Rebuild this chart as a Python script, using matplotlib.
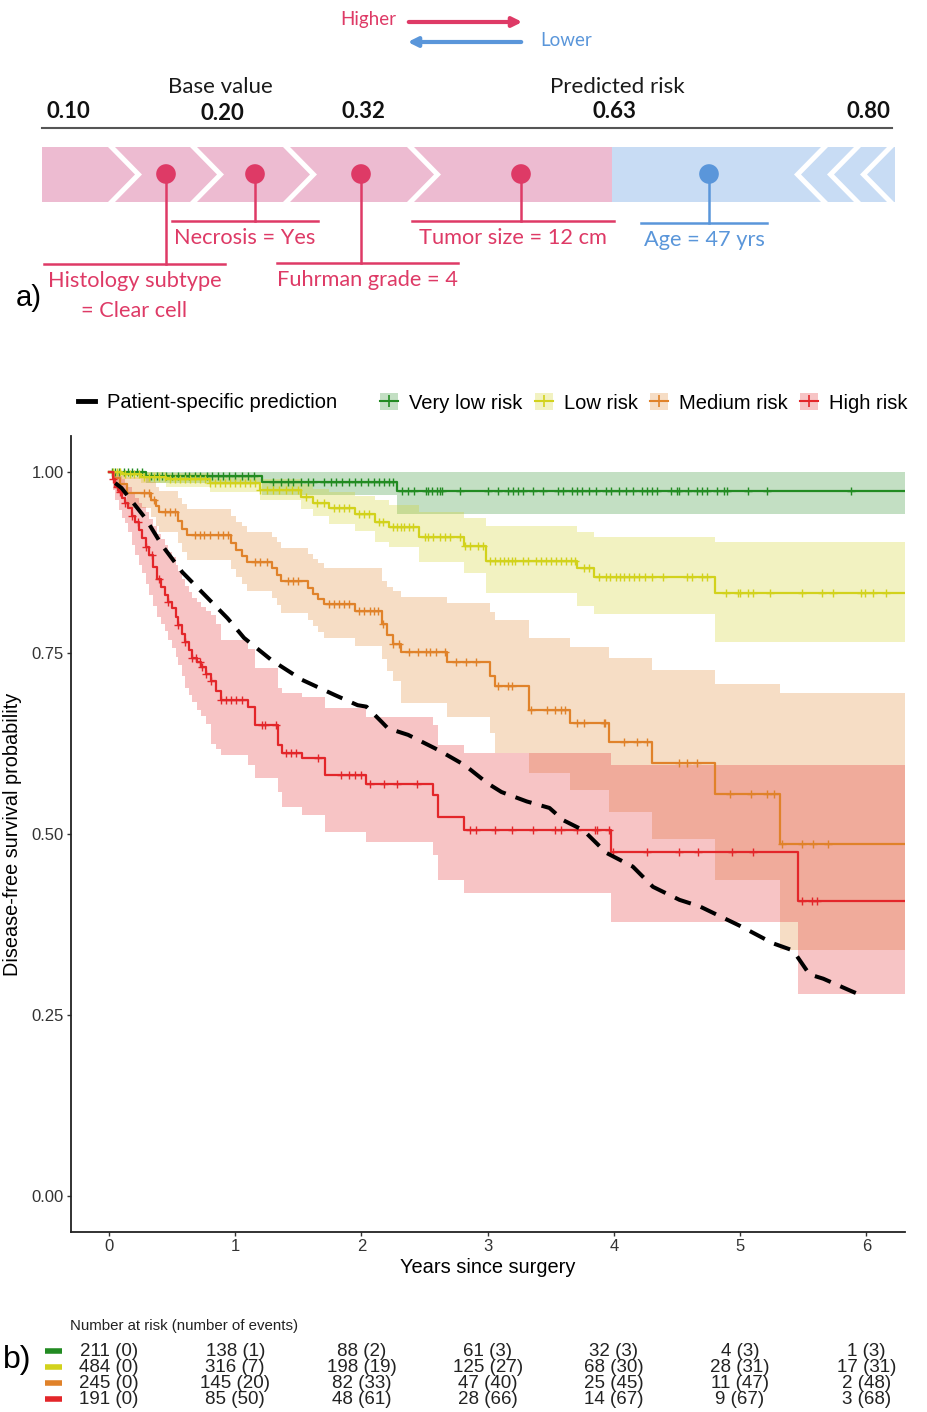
import numpy as np
import matplotlib
matplotlib.use("Agg")
import matplotlib.pyplot as plt
from matplotlib.patches import Polygon, Patch
from matplotlib.lines import Line2D
from matplotlib.legend_handler import HandlerTuple

# ---------------- panel a) : force plot (schematic units) ----------------
scale_labels = ["0.10", "0.20", "0.32", "0.63", "0.80"]
scale_pos = [68, 222, 363, 614, 868]
pos_seg_right = [108, 190, 283, 407]      # white ">" separators in the red part
split_pos = 612                            # predicted risk
neg_seg_tip = [794, 827, 860]              # white "<" separators in the blue part
feat_labels = ["Histology subtype\n= Clear cell", "Necrosis = Yes", "Fuhrman grade = 4",
               "Tumor size = 12 cm", "Age = 47 yrs"]
feat_dot = [166, 255, 361, 521, 709]
feat_bar_left = [44, 172, 277, 412, 641]
feat_bar_right = [225, 318, 458, 614, 767]
feat_bar_y = [264, 221, 263, 221, 223]
feat_higher = [True, True, True, True, False]

# ---------------- panel b) : Kaplan-Meier data ----------------
t_end = 6.31

vlow_t = [0, 0.29, 1.21, 2.28]
vlow_s = [1.0, 0.995, 0.987, 0.974]
vlow_lo = [1.0, 0.985, 0.968, 0.942]
vlow_hi = [1.0, 1.0, 1.0, 1.0]
vlow_cens = [0.02, 0.05, 0.08, 0.12, 0.15, 0.18, 0.22, 0.26, 0.33, 0.38, 0.42, 0.45, 0.5, 0.55,
             0.6, 0.63, 0.68, 0.72, 0.78, 0.82, 0.86, 0.9, 0.95, 1.0, 1.05, 1.1, 1.15, 1.3, 1.36,
             1.42, 1.46, 1.52, 1.58, 1.62, 1.7, 1.76, 1.8, 1.85, 1.9, 1.95, 2.0, 2.05, 2.1, 2.14,
             2.18, 2.22, 2.25, 2.32, 2.37, 2.42, 2.51, 2.53, 2.56, 2.6, 2.62, 2.64, 2.78, 3.0,
             3.08, 3.16, 3.2, 3.24, 3.28, 3.36, 3.44, 3.56, 3.6, 3.67, 3.71, 3.75, 3.8, 3.86,
             3.94, 3.98, 4.04, 4.1, 4.15, 4.22, 4.26, 4.3, 4.34, 4.45, 4.5, 4.52, 4.59, 4.66,
             4.7, 4.74, 4.82, 4.87, 4.9, 5.06, 5.21, 5.88]

low_t = [0, 0.1, 0.25, 0.45, 0.8, 1.2, 1.52, 1.62, 1.74, 1.95, 2.11, 2.22, 2.46, 2.81, 2.99,
         3.71, 3.84, 4.80]
low_s = [1.0, 0.997, 0.994, 0.990, 0.985, 0.976, 0.966, 0.958, 0.950, 0.942, 0.931, 0.924,
         0.911, 0.898, 0.877, 0.867, 0.855, 0.833]
low_lo = [1.0, 0.99, 0.985, 0.979, 0.972, 0.961, 0.949, 0.939, 0.929, 0.919, 0.903, 0.897,
          0.876, 0.860, 0.833, 0.815, 0.804, 0.765]
low_hi = [1.0, 1.0, 1.0, 0.999, 0.996, 0.99, 0.983, 0.977, 0.972, 0.967, 0.962, 0.955,
          0.945, 0.937, 0.925, 0.918, 0.911, 0.903]
low_cens = [0.03, 0.06, 0.09, 0.13, 0.17, 0.2, 0.24, 0.28, 0.32, 0.36, 0.4, 0.44, 0.48, 0.52,
            0.56, 0.6, 0.64, 0.68, 0.72, 0.76, 0.8, 0.84, 0.88, 0.92, 0.96, 1.0, 1.04, 1.08,
            1.12, 1.16, 1.2, 1.25, 1.3, 1.35, 1.4, 1.45, 1.5, 1.56, 1.65, 1.7, 1.78, 1.82,
            1.86, 1.9, 1.98, 2.02, 2.06, 2.14, 2.17, 2.25, 2.28, 2.31, 2.34, 2.38, 2.41, 2.5,
            2.53, 2.57, 2.62, 2.66, 2.7, 2.78, 2.82, 2.86, 2.92, 2.96, 3.02, 3.06, 3.1, 3.13,
            3.16, 3.19, 3.22, 3.28, 3.32, 3.38, 3.42, 3.46, 3.5, 3.54, 3.58, 3.62, 3.66, 3.69,
            3.76, 3.8, 3.88, 3.94, 3.97, 4.02, 4.05, 4.08, 4.12, 4.16, 4.2, 4.25, 4.3, 4.39,
            4.58, 4.62, 4.7, 4.74, 4.89, 4.98, 5.0, 5.06, 5.1, 5.24, 5.49, 5.65, 5.74, 5.96,
            5.99, 6.05, 6.16]

med_t = [0, 0.04, 0.09, 0.14, 0.33, 0.37, 0.40, 0.55, 0.58, 0.62, 0.97, 1.01, 1.05, 1.09,
         1.29, 1.33, 1.36, 1.58, 1.62, 1.66, 1.70, 1.95, 2.16, 2.20, 2.25, 2.31, 2.68, 3.02,
         3.06, 3.33, 3.65, 3.96, 4.30, 4.80, 5.32]
med_s = [1.0, 0.992, 0.984, 0.971, 0.962, 0.953, 0.945, 0.933, 0.922, 0.913, 0.902, 0.892,
         0.884, 0.876, 0.867, 0.858, 0.849, 0.840, 0.832, 0.825, 0.818, 0.808, 0.790, 0.775,
         0.762, 0.751, 0.737, 0.718, 0.705, 0.671, 0.653, 0.627, 0.598, 0.555, 0.486]
med_lo = [1.0, 0.98, 0.968, 0.950, 0.938, 0.926, 0.917, 0.902, 0.890, 0.879, 0.866, 0.855,
          0.846, 0.836, 0.826, 0.816, 0.806, 0.796, 0.787, 0.779, 0.771, 0.760, 0.742, 0.725,
          0.712, 0.681, 0.662, 0.640, 0.612, 0.584, 0.561, 0.531, 0.493, 0.436, 0.340]
med_hi = [1.0, 1.0, 0.999, 0.993, 0.987, 0.980, 0.974, 0.965, 0.956, 0.949, 0.940, 0.931,
          0.925, 0.918, 0.910, 0.903, 0.895, 0.887, 0.880, 0.874, 0.868, 0.868, 0.850, 0.842,
          0.836, 0.828, 0.819, 0.807, 0.796, 0.771, 0.758, 0.743, 0.726, 0.707, 0.695]
med_cens = [0.28, 0.32, 0.36, 0.44, 0.48, 0.52, 0.68, 0.72, 0.75, 0.8, 0.86, 0.9, 0.94, 1.16,
            1.2, 1.25, 1.42, 1.46, 1.5, 1.74, 1.78, 1.82, 1.86, 1.9, 1.98, 2.02, 2.07, 2.1,
            2.13, 2.17, 2.25, 2.3, 2.38, 2.45, 2.51, 2.54, 2.59, 2.66, 2.75, 2.83, 2.91, 3.08,
            3.16, 3.19, 3.34, 3.47, 3.53, 3.58, 3.61, 3.71, 3.76, 3.92, 3.93, 4.08, 4.18, 4.26,
            4.52, 4.58, 4.66, 4.92, 5.09, 5.21, 5.27, 5.33, 5.49, 5.58, 5.70]

high_t = [0, 0.03, 0.05, 0.08, 0.10, 0.13, 0.15, 0.18, 0.21, 0.24, 0.26, 0.29, 0.32, 0.35,
          0.38, 0.41, 0.44, 0.47, 0.50, 0.53, 0.55, 0.58, 0.60, 0.63, 0.655, 0.70, 0.73,
          0.77, 0.81, 0.85, 0.89, 1.10, 1.16, 1.34, 1.37, 1.53, 1.71, 2.04, 2.57, 2.61, 2.81,
          3.98, 5.46]
high_s = [1.0, 0.99, 0.98, 0.972, 0.964, 0.957, 0.950, 0.94, 0.931, 0.92, 0.909, 0.897,
          0.885, 0.869, 0.853, 0.842, 0.830, 0.821, 0.812, 0.80, 0.789, 0.777, 0.766, 0.754,
          0.743, 0.737, 0.731, 0.721, 0.711, 0.698, 0.685, 0.676, 0.651, 0.623, 0.612, 0.605,
          0.581, 0.569, 0.554, 0.524, 0.505, 0.475, 0.407]
high_lo = [1.0, 0.975, 0.962, 0.948, 0.936, 0.93, 0.918, 0.9, 0.886, 0.872, 0.86, 0.845,
           0.83, 0.815, 0.80, 0.79, 0.78, 0.768, 0.757, 0.745, 0.733, 0.718, 0.702, 0.692,
           0.683, 0.672, 0.663, 0.652, 0.625, 0.617, 0.609, 0.595, 0.577, 0.558, 0.538,
           0.526, 0.503, 0.489, 0.471, 0.436, 0.418, 0.378, 0.279]
high_hi = [1.0, 1.0, 0.998, 0.995, 0.99, 0.985, 0.98, 0.972, 0.965, 0.958, 0.952, 0.945,
           0.935, 0.925, 0.915, 0.908, 0.9, 0.89, 0.883, 0.872, 0.863, 0.853, 0.843, 0.834,
           0.826, 0.82, 0.814, 0.808, 0.802, 0.79, 0.768, 0.755, 0.729, 0.702, 0.695, 0.690,
           0.674, 0.662, 0.651, 0.623, 0.612, 0.595, 0.595]
high_cens = [0.03, 0.06, 0.09, 0.13, 0.18, 0.23, 0.29, 0.34, 0.40, 0.47, 0.55, 0.60, 0.66,
             0.69, 0.72, 0.74, 0.77, 0.81, 0.89, 0.93, 0.97, 1.01, 1.05, 1.21, 1.24, 1.32,
             1.40, 1.44, 1.48, 1.66, 1.84, 1.90, 1.95, 2.0, 2.07, 2.18, 2.28, 2.44, 2.86, 2.91,
             3.06, 3.19, 3.36, 3.53, 3.58, 3.71, 3.85, 3.87, 3.96, 3.99, 4.26, 4.52, 4.67,
             4.94, 5.10, 5.49, 5.57, 5.61]

patient_t = [0.05, 0.10, 0.29, 0.42, 0.58, 0.76, 0.94, 1.07, 1.29, 1.53, 1.79, 1.97, 2.04,
             2.16, 2.21, 2.37, 2.45, 2.61, 2.82, 3.0, 3.11, 3.31, 3.49, 3.60, 3.76, 3.94,
             4.15, 4.31, 4.52, 4.68, 5.0, 5.26, 5.42, 5.55, 5.66, 5.88, 5.99]
patient_s = [0.985, 0.978, 0.936, 0.899, 0.862, 0.830, 0.798, 0.771, 0.740, 0.713, 0.692,
             0.678, 0.676, 0.655, 0.646, 0.637, 0.630, 0.616, 0.595, 0.570, 0.558, 0.545,
             0.536, 0.519, 0.505, 0.474, 0.455, 0.427, 0.409, 0.400, 0.373, 0.349, 0.339,
             0.306, 0.300, 0.283, 0.275]

groups = ["Very low risk", "Low risk", "Medium risk", "High risk"]
colors = ["#228B22", "#D2D21C", "#E0822A", "#E3262A"]
risk_years = [0, 1, 2, 3, 4, 5, 6]
at_risk = [[211, 138, 88, 61, 32, 4, 1],
           [484, 316, 198, 125, 68, 28, 17],
           [245, 145, 82, 47, 25, 11, 2],
           [191, 85, 48, 28, 14, 9, 3]]
n_events = [[0, 1, 2, 3, 3, 3, 3],
            [0, 7, 19, 27, 30, 31, 31],
            [0, 20, 33, 40, 45, 47, 48],
            [0, 50, 61, 66, 67, 67, 68]]

W, H = 928, 1412
PINK, PINK_BAND = "#DE3A66", "#EDBBD1"
BLUE, BLUE_BAND = "#5A96DA", "#C8DCF4"
TOPFONT = ["Lato", "DejaVu Sans"]
ARIAL = ["Liberation Sans", "DejaVu Sans"]

fig = plt.figure(figsize=(W / 100, H / 100), dpi=100)

# ======================= panel a =======================
axa = fig.add_axes([0, 1 - 330 / H, 1, 330 / H])
axa.set_xlim(0, W)
axa.set_ylim(330, 0)
axa.axis("off")

axa.annotate("", xy=(525, 22), xytext=(406, 22),
             arrowprops=dict(arrowstyle="-|>", color=PINK, lw=3, mutation_scale=14))
axa.annotate("", xy=(405, 42), xytext=(524, 42),
             arrowprops=dict(arrowstyle="-|>", color=BLUE, lw=3, mutation_scale=14))
axa.text(396, 20, "Higher", color=PINK, ha="right", va="center", fontsize=13.5, family=TOPFONT)
axa.text(540, 40, "Lower", color=BLUE, ha="left", va="center", fontsize=13.5, family=TOPFONT)

axa.text(220, 87, "Base value", ha="center", va="center", fontsize=16, family=TOPFONT,
         color="#1a1a1a")
axa.text(617, 87, "Predicted risk", ha="center", va="center", fontsize=16, family=TOPFONT,
         color="#1a1a1a")
for lab, xp in zip(scale_labels, scale_pos):
    yy = 113 if lab == "0.20" else 111
    axa.text(xp, yy, lab, ha="center", va="center", fontsize=16, fontweight="bold",
             family=TOPFONT, color="#111111")
axa.plot([42, 892], [128, 128], color="#555555", lw=1.5)

# band
top, bot = 147, 202
mid = (top + bot) / 2
d, gap = 27, 7
lefts = [42] + [r + gap for r in pos_seg_right]
rights = pos_seg_right + [split_pos]
for i, (a, b) in enumerate(zip(lefts, rights)):
    la = 0 if i == 0 else d
    rb = 0 if i == len(rights) - 1 else d
    pts = [(a, top), (b, top), (b + rb, mid), (b, bot), (a, bot), (a + la, mid)]
    axa.add_patch(Polygon(pts, closed=True, facecolor=PINK_BAND, edgecolor="none"))
nl = [split_pos] + [m + gap for m in neg_seg_tip]
nr = neg_seg_tip + [895]
for i, (a, b) in enumerate(zip(nl, nr)):
    if i == 0:
        pts = [(a, top), (b + d, top), (b, mid), (b + d, bot), (a, bot)]
    elif i == len(nr) - 1:
        pts = [(a + d, top), (b, top), (b, bot), (a + d, bot), (a, mid)]
    else:
        pts = [(a + d, top), (b + d, top), (b, mid), (b + d, bot), (a + d, bot), (a, mid)]
    axa.add_patch(Polygon(pts, closed=True, facecolor=BLUE_BAND, edgecolor="none"))

for lab, xd, bl, br, by, hi in zip(feat_labels, feat_dot, feat_bar_left, feat_bar_right,
                                   feat_bar_y, feat_higher):
    c = PINK if hi else BLUE
    axa.plot([xd, xd], [174, by], color=c, lw=1.8, zorder=3)
    axa.plot([bl, br], [by, by], color=c, lw=1.8, zorder=3)
    axa.scatter([xd], [174], s=200, color=c, zorder=4, edgecolors="none")
    axa.text((bl + br) / 2, by + 7, lab, color=c, ha="center", va="top", fontsize=15.7,
             family=TOPFONT, linespacing=1.6)
axa.text(29, 298, "a)", ha="center", va="center", fontsize=21, family=ARIAL)

# ======================= panel b =======================
ax = fig.add_axes([71 / W, 1 - 1232 / H, 834 / W, 796 / H])


def step_value(t, s, x):
    idx = np.searchsorted(np.asarray(t), np.asarray(x), side="right") - 1
    return np.asarray(s)[idx]


curves = [(vlow_t, vlow_s, vlow_lo, vlow_hi, vlow_cens),
          (low_t, low_s, low_lo, low_hi, low_cens),
          (med_t, med_s, med_lo, med_hi, med_cens),
          (high_t, high_s, high_lo, high_hi, high_cens)]

for (t, s, lo, hi, cens), c in zip(curves, colors):
    tt = np.r_[t, t_end]
    ax.fill_between(tt, np.r_[lo, lo[-1]], np.r_[hi, hi[-1]], step="post", color=c,
                    alpha=0.27, lw=0)
for (t, s, lo, hi, cens), c in zip(curves, colors):
    tt = np.r_[t, t_end]
    ax.step(tt, np.r_[s, s[-1]], where="post", color=c, lw=1.6)
    ax.plot(cens, step_value(t, s, cens), ls="none", marker="+", ms=6, mew=1.0, color=c)

ax.plot(patient_t, patient_s, color="black", lw=2.9, ls=(0, (4.2, 2.6)),
        solid_capstyle="butt", zorder=5)

ax.set_xlim(-0.301, 6.307)
ax.set_ylim(-0.05, 1.05)
ax.set_xticks(risk_years)
ax.set_yticks([0, 0.25, 0.5, 0.75, 1.0])
ax.set_yticklabels(["0.00", "0.25", "0.50", "0.75", "1.00"])
for sp in ["top", "right"]:
    ax.spines[sp].set_visible(False)
for sp in ["left", "bottom"]:
    ax.spines[sp].set_linewidth(1.3)
    ax.spines[sp].set_color("#222222")
ax.tick_params(length=3, width=1, pad=2, color="#333333", labelcolor="#333333", labelsize=12)
for lab in ax.get_xticklabels() + ax.get_yticklabels():
    lab.set_family(ARIAL)
ax.set_xlabel("Years since surgery", fontsize=14.4, family=ARIAL, labelpad=3)
ax.set_ylabel("Disease-free survival probability", fontsize=14.3, family=ARIAL, labelpad=7)

# legends
h_pat = Line2D([], [], color="black", lw=3.5)
leg1 = fig.legend([h_pat], ["Patient-specific prediction"], loc="center left",
                  bbox_to_anchor=(78 / W, 1 - 403 / H), frameon=False, borderpad=0,
                  borderaxespad=0, handlelength=0.85, handletextpad=0.6,
                  prop={"family": ARIAL, "size": 14.5})
handles = [(Patch(facecolor=c, alpha=0.27, edgecolor="none"),
            Line2D([], [], color=c, lw=1.5, marker="+", ms=9, mew=1.2)) for c in colors]
leg2 = fig.legend(handles, groups, loc="center left", bbox_to_anchor=(380 / W, 1 - 403 / H),
                  ncol=4, frameon=False, borderpad=0, borderaxespad=0, handlelength=0.9,
                  handleheight=0.9, handletextpad=0.55, columnspacing=0.6, numpoints=1,
                  handler_map={tuple: HandlerTuple(ndivide=1)},
                  prop={"family": ARIAL, "size": 14.5})

# risk table
axt = fig.add_axes([71 / W, 1 - 1408 / H, 834 / W, 93 / H])
axt.set_xlim(ax.get_xlim())
axt.set_ylim(3.56, -2.25)
axt.axis("off")
axt.text(-0.31, -1.56, "Number at risk (number of events)", ha="left", va="center",
         fontsize=10.8, family=ARIAL, color="#222222")
for i, c in enumerate(colors):
    axt.plot([-0.51, -0.37], [i, i], color=c, lw=4, solid_capstyle="butt", clip_on=False)
    for j, yr in enumerate(risk_years):
        axt.text(yr, i, f"{at_risk[i][j]} ({n_events[i][j]})", ha="center", va="center",
                 fontsize=13.5, family=ARIAL, color="#222222")
fig.text(17 / W, 1 - 1360 / H, "b)", ha="center", va="center", fontsize=23, family=ARIAL)

fig.savefig("out.png", dpi=100)
